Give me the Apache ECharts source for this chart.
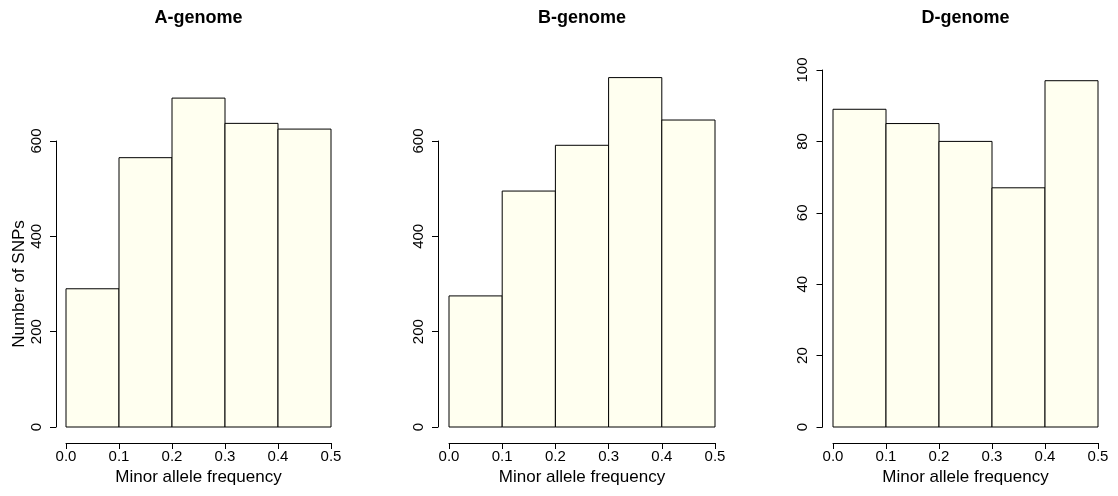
<!DOCTYPE html>
<html>
<head>
<meta charset="utf-8">
<script src="https://cdn.jsdelivr.net/npm/echarts@6/dist/echarts.min.js"></script>
<style>html,body{margin:0;padding:0;background:#fff}#c{width:1118px;height:496px}</style>
</head>
<body>
<div id="c"></div>
<script>
// Data
const binStarts = [0.0, 0.1, 0.2, 0.3, 0.4];
const binWidth = 0.1;
const panelTitles = ['A-genome', 'B-genome', 'D-genome'];
const countsA = [290, 565, 690, 637, 625];
const countsB = [275, 495, 591, 733, 644];
const countsD = [89, 85, 80, 67, 97];
const xTicks = [0.0, 0.1, 0.2, 0.3, 0.4, 0.5];
const yTicksAB = [0, 200, 400, 600];
const yTicksD = [0, 20, 40, 60, 80, 100];
const xLabel = 'Minor allele frequency';
const yLabel = 'Number of SNPs';

const FONT = '"Liberation Sans", Arial, Helvetica, sans-serif';
const allCounts = [countsA, countsB, countsD];
const yTickSets = [yTicksAB, yTicksAB, yTicksD];

const grids = [
  {left: 66, top: 141, width: 265, height: 286},
  {left: 449, top: 141, width: 266, height: 286},
  {left: 833, top: 70, width: 265, height: 357}
];
const yOffsets = [10, 11, 10.5];

const chart = echarts.init(document.getElementById('c'), null, {renderer: 'canvas'});

const option = {
  animation: false,
  backgroundColor: '#ffffff',
  title: panelTitles.map((t, i) => ({
    text: t,
    left: grids[i].left + grids[i].width / 2,
    top: 9,
    textAlign: 'center',
    padding: 0,
    textStyle: {fontFamily: FONT, fontWeight: 'bold', fontSize: 18, color: '#000'}
  })),
  grid: grids.map(g => Object.assign({containLabel: false}, g)),
  xAxis: grids.map((g, i) => ({
    type: 'value',
    gridIndex: i,
    min: xTicks[0],
    max: xTicks[xTicks.length - 1],
    interval: 0.1,
    offset: 16,
    name: xLabel,
    nameLocation: 'middle',
    nameGap: 26,
    nameTextStyle: {fontFamily: FONT, fontSize: 17, color: '#000'},
    axisLine: {show: true, onZero: false, lineStyle: {color: '#000', width: 1}},
    axisTick: {show: true, length: 6, lineStyle: {color: '#000'}},
    axisLabel: {show: true, margin: 6, fontFamily: FONT, fontSize: 15, color: '#000',
      formatter: v => v.toFixed(1)},
    splitLine: {show: false}
  })),
  yAxis: grids.map((g, i) => {
    const ticks = yTickSets[i];
    return {
      type: 'value',
      gridIndex: i,
      min: ticks[0],
      max: ticks[ticks.length - 1],
      interval: ticks[1] - ticks[0],
      offset: yOffsets[i],
      name: i === 0 ? yLabel : '',
      nameLocation: 'middle',
      nameGap: 27,
      nameTextStyle: {fontFamily: FONT, fontSize: 17, color: '#000'},
      axisLine: {show: true, onZero: false, lineStyle: {color: '#000', width: 1}},
      axisTick: {show: true, length: 6, lineStyle: {color: '#000'}},
      axisLabel: {show: true, rotate: 90, margin: 12, fontFamily: FONT, fontSize: 15, color: '#000'},
      splitLine: {show: false}
    };
  }),
  series: allCounts.map((counts, i) => ({
    type: 'custom',
    xAxisIndex: i,
    yAxisIndex: i,
    clip: false,
    data: counts.map((c, k) => [binStarts[k], binStarts[k] + binWidth, c]),
    renderItem: (params, api) => {
      const p0 = api.coord([api.value(0), api.value(2)]);
      const p1 = api.coord([api.value(1), 0]);
      return {
        type: 'rect',
        shape: {x: p0[0], y: p0[1], width: p1[0] - p0[0], height: p1[1] - p0[1]},
        style: {fill: '#FFFFF0', stroke: '#000', lineWidth: 1}
      };
    }
  }))
};
chart.setOption(option);
</script>
</body>
</html>
